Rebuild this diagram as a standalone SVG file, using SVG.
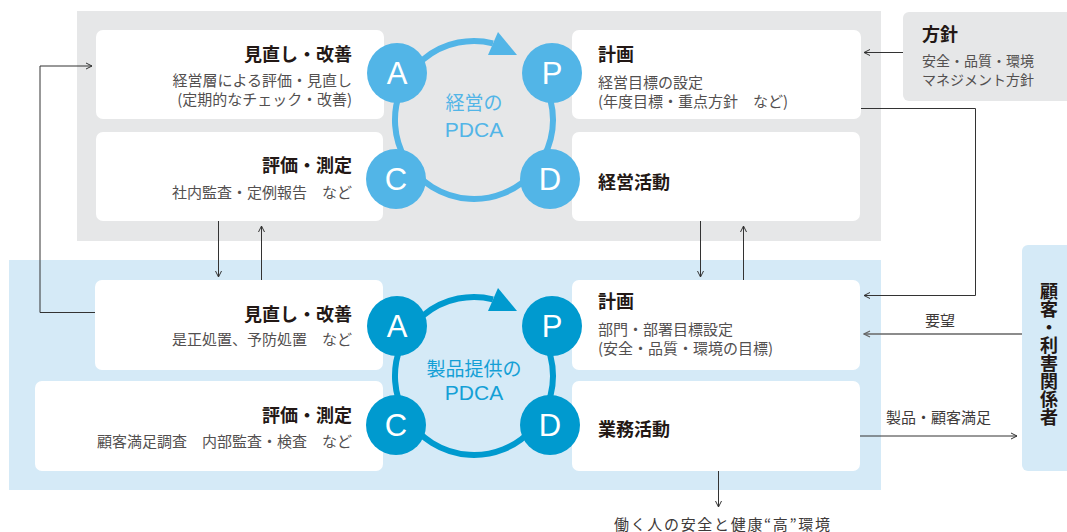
<svg xmlns="http://www.w3.org/2000/svg" width="1067" height="532" viewBox="0 0 1067 532">
<style>
.jp{font-family:"Noto Sans CJK JP","Noto Sans",sans-serif}
.ttl{font-family:"Noto Sans CJK JP",sans-serif;font-size:18px;font-weight:bold;fill:#231815}
.sub{font-family:"Noto Sans CJK JP",sans-serif;font-size:15px;fill:#535050}
.box{fill:#ffffff}
.gray{fill:#e6e7e8}
.blue{fill:#d5eaf7}
.lt{fill:#52b5e7}
.dk{fill:#009acf}
.let{font-family:"Liberation Sans",Arial,sans-serif;font-size:31px;fill:#ffffff;text-anchor:middle}
.ln{fill:none;stroke:#333333;stroke-width:1}
.lbl{font-family:"Noto Sans CJK JP",sans-serif;font-size:15px;fill:#3e3a39}
.end{text-anchor:end}
</style>
<defs>
<marker id="ah" viewBox="0 0 8 8" refX="7" refY="4" markerWidth="8" markerHeight="8" markerUnits="userSpaceOnUse" orient="auto">
<path d="M1,1 L7,4 L1,7" fill="none" stroke="#333333" stroke-width="1"/>
</marker>
<marker id="ahg" viewBox="0 0 8 8" refX="7" refY="4" markerWidth="8" markerHeight="8" markerUnits="userSpaceOnUse" orient="auto">
<path d="M1,1 L7,4 L1,7" fill="none" stroke="#666666" stroke-width="1.2"/>
</marker>
</defs>

<g id="panel-top"><rect class="gray" x="77" y="11" width="804" height="230"/></g>
<g id="panel-bottom"><rect class="blue" x="9" y="260" width="872" height="230"/></g>

<g id="connectors">
<polyline class="ln" points="95,312.5 40,312.5 40,66 92,66" marker-end="url(#ah)"/>
<line class="ln" x1="218.5" y1="221" x2="218.5" y2="277" marker-end="url(#ah)"/>
<line class="ln" x1="261.5" y1="280" x2="261.5" y2="226" marker-end="url(#ah)"/>
<line class="ln" x1="700.5" y1="221" x2="700.5" y2="277" marker-end="url(#ah)"/>
<line class="ln" x1="743.5" y1="280" x2="743.5" y2="226" marker-end="url(#ah)"/>
<line class="ln" x1="903" y1="52.5" x2="864" y2="52.5" marker-end="url(#ah)"/>
<polyline class="ln" points="861,108.5 975.5,108.5 975.5,295.5 864,295.5" marker-end="url(#ah)"/>
<line x1="1022" y1="334" x2="864" y2="334" stroke="#666666" stroke-width="1.6" marker-end="url(#ahg)"/>
<line class="ln" x1="860" y1="436" x2="1017" y2="436" marker-end="url(#ah)"/>
<line class="ln" x1="718.5" y1="471" x2="718.5" y2="507" marker-end="url(#ah)"/>
<text class="lbl" x="940" y="326" text-anchor="middle">要望</text>
<text class="lbl" x="886" y="423">製品・顧客満足</text>
<text class="lbl" x="614" y="530" textLength="216" lengthAdjust="spacing">働く人の安全と健康“高”環境</text>
</g>

<g id="node-top-act">
<rect class="box" x="96" y="30" width="288" height="89" rx="7"/>
<text class="ttl end" x="352" y="61">見直し・改善</text>
<text class="sub end" x="352" y="86">経営層による評価・見直し</text>
<text class="sub end" x="352" y="105">(定期的なチェック・改善)</text>
</g>
<g id="node-top-check">
<rect class="box" x="96" y="132" width="287" height="89" rx="7"/>
<text class="ttl end" x="352" y="172">評価・測定</text>
<text class="sub end" x="352" y="198">社内監査・定例報告　など</text>
</g>
<g id="node-top-plan">
<rect class="box" x="572" y="30" width="289" height="89" rx="7"/>
<text class="ttl" x="598" y="61">計画</text>
<text class="sub" x="598" y="88">経営目標の設定</text>
<text class="sub" x="598" y="107">(年度目標・重点方針　など)</text>
</g>
<g id="node-top-do">
<rect class="box" x="572" y="132" width="288" height="89" rx="7"/>
<text class="ttl" x="598" y="189">経営活動</text>
</g>
<g id="node-policy">
<rect class="gray" x="903" y="12" width="175" height="89" rx="6"/>
<text class="ttl" x="922" y="41">方針</text>
<text class="sub" x="922" y="66" style="font-size:14px">安全・品質・環境</text>
<text class="sub" x="922" y="85" style="font-size:14px">マネジメント方針</text>
</g>

<g id="node-bottom-act">
<rect class="box" x="95" y="280" width="288" height="90" rx="7"/>
<text class="ttl end" x="352" y="321">見直し・改善</text>
<text class="sub end" x="352" y="345">是正処置、予防処置　など</text>
</g>
<g id="node-bottom-check">
<rect class="box" x="35" y="381" width="348" height="90" rx="7"/>
<text class="ttl end" x="352" y="422">評価・測定</text>
<text class="sub end" x="352" y="447">顧客満足調査　内部監査・検査　など</text>
</g>
<g id="node-bottom-plan">
<rect class="box" x="572" y="280" width="288" height="90" rx="7"/>
<text class="ttl" x="598" y="308">計画</text>
<text class="sub" x="598" y="335">部門・部署目標設定</text>
<text class="sub" x="598" y="354">(安全・品質・環境の目標)</text>
</g>
<g id="node-bottom-do">
<rect class="box" x="572" y="381" width="288" height="90" rx="7"/>
<text class="ttl" x="598" y="436">業務活動</text>
</g>
<g id="node-customer">
<rect class="blue" x="1022" y="245" width="60" height="226" rx="6"/>
<text class="ttl" x="1049" y="282" writing-mode="vertical-rl" style="font-size:18px">顧客・利害関係者</text>
</g>

<g id="pdca-top">
<path d="M534.5,69.2 A79,79 0 1 1 493.0,43.3" fill="none" stroke="#52b5e7" stroke-width="6"/>
<polygon class="lt" points="498,32 517,55 488,55"/>
<text class="jp" x="474" y="110" text-anchor="middle" font-size="19" fill="#52b5e7">経営の</text>
<text x="474" y="137" text-anchor="middle" font-family="Liberation Sans, Arial, sans-serif" font-size="21" fill="#52b5e7">PDCA</text>
<g id="top-A"><circle class="lt" cx="397" cy="73" r="30"/><text class="let" x="397" y="84">A</text></g>
<g id="top-P"><circle class="lt" cx="552" cy="73" r="30"/><text class="let" x="552" y="84">P</text></g>
<g id="top-C"><circle class="lt" cx="396" cy="179" r="30"/><text class="let" x="396" y="190">C</text></g>
<g id="top-D"><circle class="lt" cx="550" cy="179" r="30"/><text class="let" x="550" y="190">D</text></g>
</g>

<g id="pdca-bottom">
<path d="M534.5,325.2 A79,79 0 1 1 493.0,299.3" fill="none" stroke="#009acf" stroke-width="6"/>
<polygon class="dk" points="498,288 517,311 488,311"/>
<text class="jp" x="474" y="376" text-anchor="middle" font-size="19" fill="#14a0d6">製品提供の</text>
<text x="474" y="400" text-anchor="middle" font-family="Liberation Sans, Arial, sans-serif" font-size="21" fill="#14a0d6">PDCA</text>
<g id="bot-A"><circle class="dk" cx="397" cy="326" r="30"/><text class="let" x="397" y="337">A</text></g>
<g id="bot-P"><circle class="dk" cx="552" cy="326" r="30"/><text class="let" x="552" y="337">P</text></g>
<g id="bot-C"><circle class="dk" cx="396" cy="425" r="30"/><text class="let" x="396" y="436">C</text></g>
<g id="bot-D"><circle class="dk" cx="550" cy="425" r="30"/><text class="let" x="550" y="436">D</text></g>
</g>
</svg>
